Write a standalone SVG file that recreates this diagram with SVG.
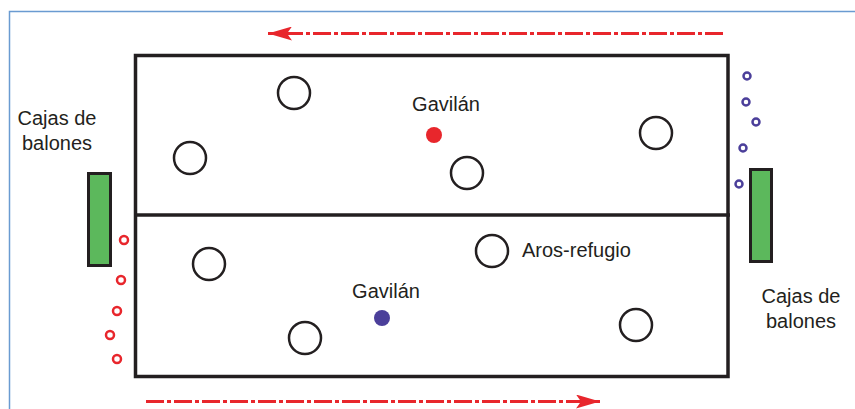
<svg xmlns="http://www.w3.org/2000/svg" width="855" height="409" viewBox="0 0 855 409">
<style>
.lbl{font-family:"Liberation Sans",Arial,sans-serif;font-size:20px;fill:#231f20}
.ring{fill:none;stroke:#231f20;stroke-width:2.5}
.box{fill:#5cb85c;stroke:#231f20;stroke-width:3}
.rs{fill:none;stroke:#e8262c;stroke-width:2.5}
.bs{fill:none;stroke:#4b3f9a;stroke-width:2.5}
.flow{stroke:#e8262c;stroke-width:3;stroke-dasharray:18 3 4 3;fill:none}
</style>
<defs>
<marker id="ah" viewBox="0 0 24 14" refX="24" refY="7" markerWidth="24" markerHeight="14" markerUnits="userSpaceOnUse" orient="auto">
<path d="M0,0 L24,7 L0,14 L5,7 Z" fill="#e8262c"/>
</marker>
</defs>
<rect width="855" height="409" fill="#fff"/>
<path d="M9.5,409 V11.5 H855" fill="none" stroke="#6a9bd1" stroke-width="1.5"/>
<g id="field">
<rect x="135.5" y="55.5" width="592.5" height="321" fill="none" stroke="#231f20" stroke-width="3.5"/>
<line x1="135.5" y1="215" x2="730" y2="215" stroke="#231f20" stroke-width="3.5"/>
</g>
<g id="connectors">
<line class="flow" x1="723" y1="33.5" x2="268" y2="33.5" marker-end="url(#ah)"/>
<line class="flow" x1="146" y1="401.5" x2="600" y2="401.5" marker-end="url(#ah)"/>
</g>
<g id="box-left"><rect class="box" x="88.5" y="173.5" width="22" height="92"/></g>
<g id="box-right"><rect class="box" x="750.5" y="169.5" width="21" height="92"/></g>
<g id="balls-red">
<circle class="rs" cx="124" cy="240" r="4"/>
<circle class="rs" cx="121" cy="280" r="4"/>
<circle class="rs" cx="117" cy="311" r="4"/>
<circle class="rs" cx="110" cy="335" r="4"/>
<circle class="rs" cx="117" cy="359" r="4"/>
</g>
<g id="balls-blue">
<circle class="bs" cx="747" cy="76" r="3.5"/>
<circle class="bs" cx="746" cy="102" r="3.5"/>
<circle class="bs" cx="756" cy="122" r="3.5"/>
<circle class="bs" cx="743" cy="148" r="3.5"/>
<circle class="bs" cx="739" cy="184" r="3.5"/>
</g>
<g id="aros">
<circle class="ring" cx="294" cy="93" r="16"/>
<circle class="ring" cx="190" cy="158" r="16"/>
<circle class="ring" cx="656" cy="133" r="16"/>
<circle class="ring" cx="467" cy="173" r="16"/>
<circle class="ring" cx="209" cy="264" r="16"/>
<circle class="ring" cx="492" cy="251" r="16"/>
<circle class="ring" cx="305" cy="338" r="16"/>
<circle class="ring" cx="636" cy="325" r="16"/>
</g>
<g id="gavilan-red">
<circle cx="434" cy="135" r="8" fill="#e8262c"/>
<text class="lbl" x="446" y="111" text-anchor="middle">Gavilán</text>
</g>
<g id="gavilan-blue">
<circle cx="382" cy="318" r="8" fill="#4b3f9a"/>
<text class="lbl" x="386" y="298" text-anchor="middle">Gavilán</text>
</g>
<g id="aros-label"><text class="lbl" x="522" y="257">Aros-refugio</text></g>
<g id="label-left"><text class="lbl" x="57" y="125" text-anchor="middle">Cajas de</text><text class="lbl" x="57" y="150" text-anchor="middle">balones</text></g>
<g id="label-right"><text class="lbl" x="801" y="303" text-anchor="middle">Cajas de</text><text class="lbl" x="801" y="328" text-anchor="middle">balones</text></g>
</svg>
